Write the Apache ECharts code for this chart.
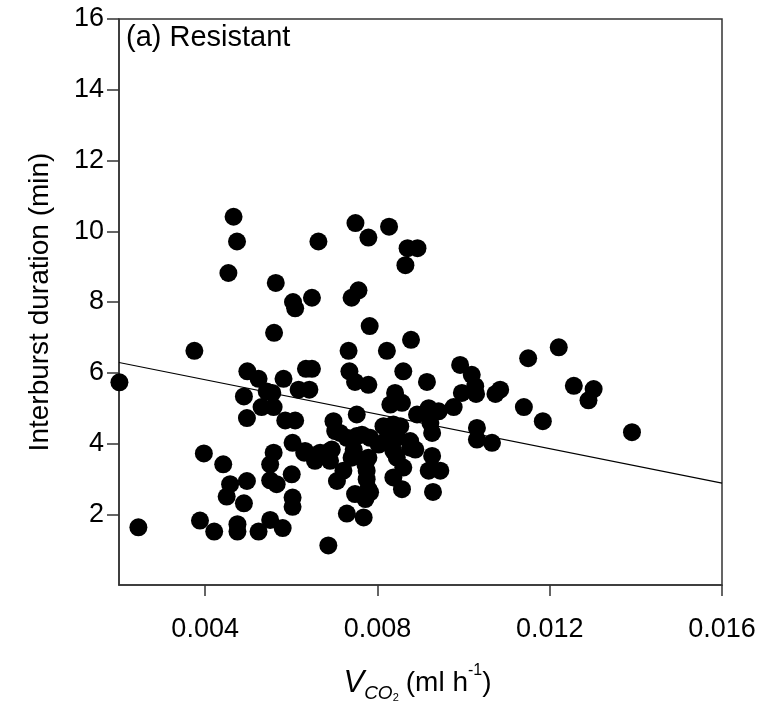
<!DOCTYPE html>
<html>
<head>
<meta charset="utf-8">
<script src="https://cdn.jsdelivr.net/npm/echarts@6/dist/echarts.min.js"></script>
<style>
html,body{margin:0;padding:0;background:#fff;}
#c{width:764px;height:708px;}
</style>
</head>
<body>
<div id="c"></div>
<script>
// Observed points: VCO2 (ml h-1)
const vco2 = [
  0.00466,0.00474,0.00454,0.00564,0.00604,0.00609,0.00648,0.00663,0.00749,0.00779,
  0.00827,0.00870,0.00893,0.00865,0.00756,0.00740,0.00782,0.00733,0.00822,0.00878,
  0.00560,0.00375,0.00201,0.00498,0.00524,0.00582,0.00634,0.00648,0.00490,0.00543,
  0.00617,0.00642,0.00531,0.00559,0.00497,0.00586,0.00609,0.00698,0.00735,0.00860,
  0.00748,0.00779,0.00915,0.00841,0.00830,0.00857,0.00752,0.00992,0.01019,0.01027,
  0.00996,0.01029,0.01074,0.01085,0.01150,0.01221,0.01256,0.01302,0.01290,0.01140,
  0.01184,0.01391,0.00977,0.00892,0.00919,0.00942,0.00923,0.00927,0.01031,0.01031,
  0.01066,0.00556,0.00713,0.00729,0.00764,0.00783,0.00814,0.00837,0.00853,0.00818,
  0.00845,0.00876,0.00888,0.00702,0.00603,0.00559,0.00630,0.00659,0.00690,0.00655,
  0.00690,0.00748,0.00779,0.00845,0.00860,0.00927,0.00919,0.00946,0.00721,0.00706,
  0.00775,0.00775,0.00837,0.00748,0.00783,0.00772,0.00857,0.00929,0.00729,0.00768,
  0.00686,0.00397,0.00442,0.00458,0.00450,0.00497,0.00490,0.00388,0.00421,0.00475,
  0.00475,0.00524,0.00551,0.00580,0.00245,0.00551,0.00601,0.00551,0.00566,0.00603,
  0.00603,0.00745,0.00803,0.00837,0.00876,0.00632,0.00667,0.00772,0.00779,0.00845,
  0.00694,0.00740,0.00752
];
// Observed points: interburst duration (min)
const interburst = [
  10.41,9.71,8.82,8.54,8.00,7.82,8.12,9.71,10.23,9.82,
  10.13,9.52,9.52,9.04,8.33,8.12,7.32,6.62,6.62,6.93,
  7.13,6.62,5.73,6.04,5.83,5.83,6.11,6.11,5.33,5.47,
  5.52,5.52,5.03,5.03,4.72,4.65,4.65,4.63,6.04,6.04,
  5.74,5.66,5.74,5.43,5.10,5.15,4.82,6.22,5.94,5.62,
  5.43,5.40,5.40,5.52,6.41,6.72,5.63,5.54,5.22,5.03,
  4.63,4.32,5.03,4.82,5.00,4.91,4.58,4.30,4.44,4.11,
  4.02,5.43,4.30,4.16,4.25,4.16,4.49,4.54,4.49,4.07,
  4.16,4.07,3.83,4.35,4.02,3.74,3.74,3.60,3.79,3.51,
  3.51,3.65,3.60,3.60,3.32,3.65,3.23,3.23,3.23,2.94,
  3.23,2.99,3.04,2.57,2.62,2.43,2.71,2.63,2.02,1.91,
  1.12,3.72,3.41,2.85,2.50,2.94,2.31,1.82,1.51,1.72,
  1.51,1.51,1.84,1.61,1.63,3.41,3.13,2.96,2.85,2.47,
  2.21,3.83,3.97,3.79,3.88,3.79,3.74,3.41,2.71,4.25,
  3.83,3.60,4.21
];
// Regression line end points
const fitX = [0.002, 0.016];
const fitY = [6.29, 2.88];
// Tick labels
const xTicks = [0.004, 0.008, 0.012, 0.016];
const yTicks = [2, 4, 6, 8, 10, 12, 14, 16];

const FONT = 'Liberation Sans, Arial, sans-serif';
const FS = 27;

const points = vco2.map((v, i) => [v, interburst[i]]);
const fitLine = fitX.map((v, i) => [v, fitY[i]]);

const chart = echarts.init(document.getElementById('c'), null, {renderer: 'canvas'});
chart.setOption({
  backgroundColor: '#ffffff',
  animation: false,
  grid: {
    left: 119, top: 19, width: 603, height: 569,
    show: true, borderColor: '#333', borderWidth: 1.5, backgroundColor: 'transparent'
  },
  xAxis: {
    type: 'value', min: 0.002, max: 0.016,
    splitLine: {show: false},
    axisLine: {show: true, onZero: false, lineStyle: {color: '#333', width: 1.5}},
    axisTick: {show: true, inside: false, length: 11, customValues: xTicks, lineStyle: {color: '#333', width: 1.5}},
    axisLabel: {show: true, customValues: xTicks, margin: 31, color: '#000', fontFamily: FONT, fontSize: FS,
      formatter: v => v.toFixed(3)},
    name: '{v|V}{sub|CO}{sub2|2}{n|(ml h}{sup|-1}{e|)}',
    nameLocation: 'middle', nameGap: 78,
    nameTextStyle: {
      fontFamily: FONT, color: '#000',
      rich: {
        v: {fontFamily: FONT, fontSize: 31, fontStyle: 'italic', color: '#000', lineHeight: 40, verticalAlign: 'middle'},
        n: {fontFamily: FONT, fontSize: 28, color: '#000', lineHeight: 40, verticalAlign: 'middle'},
        e: {fontFamily: FONT, fontSize: 28, color: '#000', lineHeight: 40, verticalAlign: 'middle', padding: [0, 6, 0, 0]},
        sub: {fontFamily: FONT, fontSize: 19, fontStyle: 'italic', color: '#000', lineHeight: 16, verticalAlign: 'bottom'},
        sub2: {fontFamily: FONT, fontSize: 11, color: '#000', lineHeight: 8, verticalAlign: 'bottom', padding: [0, 7, 0, 0]},
        sup: {fontFamily: FONT, fontSize: 16, color: '#000', lineHeight: 19, verticalAlign: 'top'}
      }
    }
  },
  yAxis: {
    type: 'value', min: 0, max: 16,
    splitLine: {show: false},
    axisLine: {show: true, onZero: false, lineStyle: {color: '#333', width: 1.5}},
    axisTick: {show: true, inside: false, length: 12, customValues: yTicks, lineStyle: {color: '#333', width: 1.5}},
    axisLabel: {show: true, customValues: yTicks, margin: 15, color: '#000', fontFamily: FONT, fontSize: FS},
    name: 'Interburst duration (min)',
    nameLocation: 'middle', nameGap: 65,
    nameTextStyle: {fontFamily: FONT, fontSize: 28, color: '#000'}
  },
  graphic: [{
    type: 'text', left: 126, top: 23,
    style: {text: '(a) Resistant', font: '29px ' + FONT, fill: '#000'}
  }],
  series: [
    {
      type: 'scatter', data: points, symbol: 'circle', symbolSize: 18,
      itemStyle: {color: '#000', opacity: 1}, z: 2
    },
    {
      type: 'line', data: fitLine, showSymbol: false, symbol: 'none',
      lineStyle: {color: '#000', width: 1.2}, z: 3
    }
  ]
});
</script>
</body>
</html>
